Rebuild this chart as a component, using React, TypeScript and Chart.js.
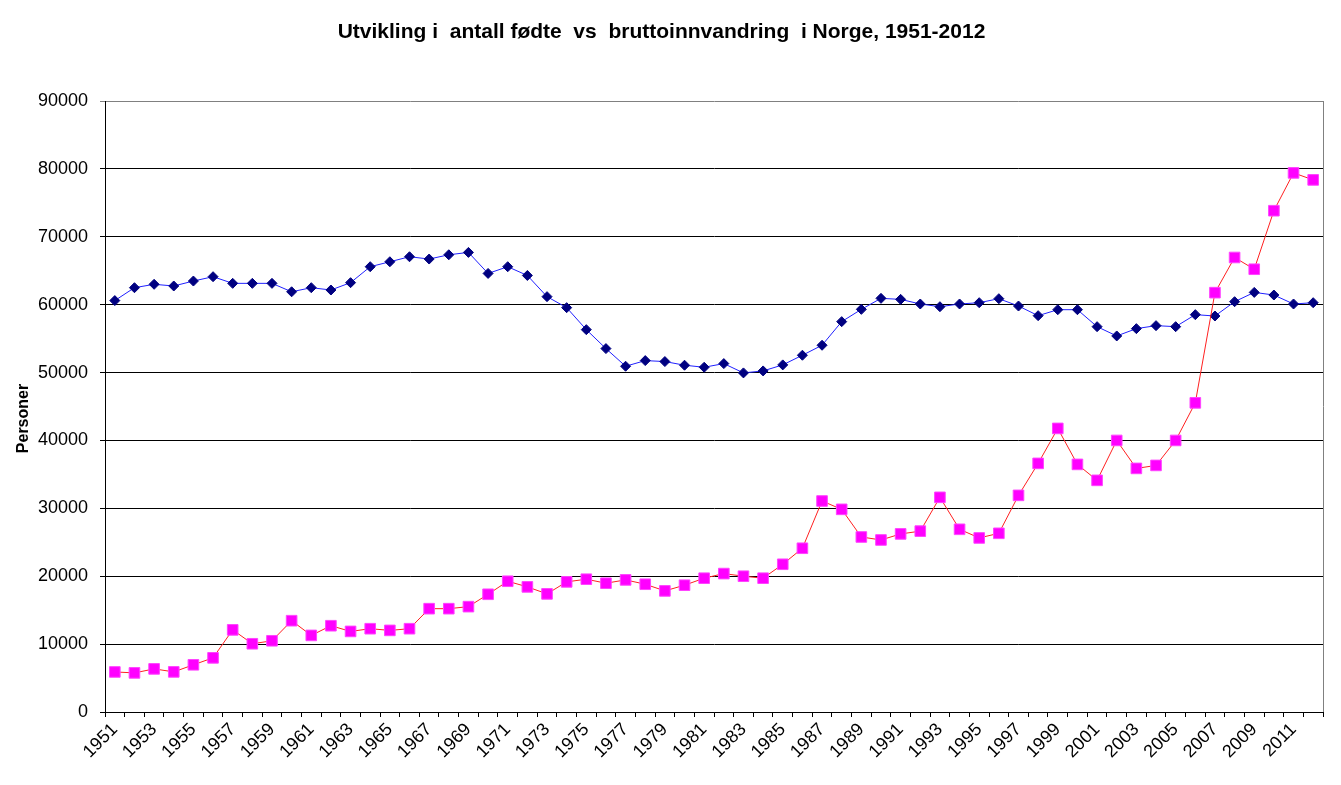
import React, { useEffect, useRef } from "react";
import { Chart, registerables } from "chart.js";

Chart.register(...registerables);

const years = [
  "1951", "1952", "1953", "1954", "1955", "1956", "1957", "1958", "1959", "1960",
  "1961", "1962", "1963", "1964", "1965", "1966", "1967", "1968", "1969", "1970",
  "1971", "1972", "1973", "1974", "1975", "1976", "1977", "1978", "1979", "1980",
  "1981", "1982", "1983", "1984", "1985", "1986", "1987", "1988", "1989", "1990",
  "1991", "1992", "1993", "1994", "1995", "1996", "1997", "1998", "1999", "2000",
  "2001", "2002", "2003", "2004", "2005", "2006", "2007", "2008", "2009", "2010",
  "2011", "2012",
];

const fodte = [
  60600, 62500, 63000, 62750, 63480, 64120, 63140, 63140, 63140, 61900,
  62500, 62160, 63240, 65590, 66320, 67060, 66720, 67350, 67700, 64600,
  65590, 64300, 61180, 59560, 56320, 53530, 50930, 51760, 51620, 51080,
  50780, 51320, 49950, 50240, 51130, 52550, 54020, 57500, 59310, 60930,
  60780, 60100, 59700, 60100, 60290, 60880, 59800, 58380, 59260, 59260,
  56760, 55390, 56470, 56910, 56760, 58530, 58330, 60440, 61810, 61420,
  60100, 60290,
];

const innvandring = [
  5900, 5760, 6350, 5910, 6950, 7980, 12100, 10050, 10490, 13450,
  11280, 12710, 11870, 12270, 12020, 12270, 15220, 15220, 15520, 17340,
  19260, 18430, 17400, 19170, 19560, 18970, 19460, 18820, 17840, 18680,
  19710, 20390, 20000, 19710, 21760, 24120, 31080, 29850, 25780, 25340,
  26230, 26640, 31620, 26910, 25640, 26320, 31910, 36620, 41770, 36470,
  34120, 40000, 35880, 36320, 40000, 45540, 61770, 66950, 65220, 73840,
  79410, 78380,
];

const titleText = "Utvikling i  antall fødte  vs  bruttoinnvandring  i Norge, 1951-2012";
const yAxisTitle = "Personer";
const yMin = 0;
const yMax = 90000;
const yStep = 10000;

const FONT = "'Liberation Sans', Arial, sans-serif";

const rightBorder = {
  id: "rightBorder",
  afterDraw(chart: any) {
    const { ctx, chartArea } = chart;
    ctx.save();
    ctx.strokeStyle = "#808080";
    ctx.lineWidth = 1;
    ctx.beginPath();
    const x = Math.round(chartArea.right) + 0.5;
    ctx.moveTo(x, chartArea.top);
    ctx.lineTo(x, chartArea.bottom);
    ctx.stroke();
    ctx.restore();
  },
};

const yTitlePlugin = {
  id: "yTitlePlugin",
  afterDraw(chart: any) {
    const { ctx, chartArea } = chart;
    ctx.save();
    ctx.fillStyle = "#000";
    ctx.font = `bold 16px ${FONT}`;
    ctx.textAlign = "center";
    ctx.textBaseline = "middle";
    ctx.translate(24, (chartArea.top + chartArea.bottom) / 2 + 12);
    ctx.rotate(-Math.PI / 2);
    ctx.fillText(yAxisTitle, 0, 0);
    ctx.restore();
  },
};

export default function App() {
  const ref = useRef<HTMLCanvasElement | null>(null);

  useEffect(() => {
    if (!ref.current) return;
    const chart = new Chart(ref.current, {
      type: "line",
      data: {
        labels: years,
        datasets: [
          {
            label: "Fødte",
            data: fodte,
            borderColor: "#2020ff",
            borderWidth: 1,
            backgroundColor: "#000080",
            pointBackgroundColor: "#000080",
            pointBorderColor: "#000080",
            pointStyle: "rectRot",
            pointRadius: 5,
            pointBorderWidth: 1,
            tension: 0,
            order: 2,
          },
          {
            label: "Bruttoinnvandring",
            data: innvandring,
            borderColor: "#ff2020",
            borderWidth: 1,
            backgroundColor: "#ff00ff",
            pointBackgroundColor: "#ff00ff",
            pointBorderColor: "#ff44ff",
            pointStyle: "rect",
            pointRadius: 7.5,
            pointBorderWidth: 1,
            tension: 0,
            order: 1,
          },
        ],
      },
      options: {
        responsive: false,
        animation: false,
        devicePixelRatio: 1,
        layout: { padding: { left: 0, right: 18, top: 0, bottom: 0 } },
        plugins: {
          legend: { display: false },
          tooltip: { enabled: false },
          title: {
            display: true,
            text: titleText,
            color: "#000",
            font: { family: FONT, size: 21, weight: "bold" },
            padding: { top: 19.5, bottom: 56.3 },
          },
        },
        scales: {
          x: {
            type: "category",
            offset: true,
            grid: {
              display: true,
              drawOnChartArea: false,
              drawTicks: true,
              tickLength: 5,
              color: "#000",
              offset: true,
            },
            border: { display: true, color: "#000", width: 1 },
            ticks: {
              autoSkip: false,
              maxRotation: 45,
              minRotation: 45,
              padding: 2,
              color: "#000",
              font: { family: FONT, size: 18 },
              callback: (_v: any, i: number) => (i % 2 === 0 ? years[i] : ""),
            },
            afterFit: (scale: any) => {
              scale.height = 73;
            },
          },
          y: {
            min: yMin,
            max: yMax,
            grid: {
              color: (ctx: any) => (ctx.tick && ctx.tick.value === yMax ? "#808080" : "#000"),
              lineWidth: 1,
              drawTicks: true,
              tickLength: 5,
            },
            border: { display: true, color: "#000", width: 1 },
            ticks: {
              stepSize: yStep,
              padding: 12,
              color: "#000",
              font: { family: FONT, size: 18 },
              callback: (v: any) => String(v),
            },
            title: { display: false },
            afterFit: (scale: any) => {
              scale.width = 105;
            },
          },
        },
      },
      plugins: [rightBorder, yTitlePlugin],
    });
    return () => chart.destroy();
  }, []);

  return (
    <div style={{ position: "fixed", left: 0, top: 0, width: 1341, height: 785, background: "#fff" }}>
      <canvas ref={ref} width={1341} height={785} style={{ display: "block" }} />
    </div>
  );
}
